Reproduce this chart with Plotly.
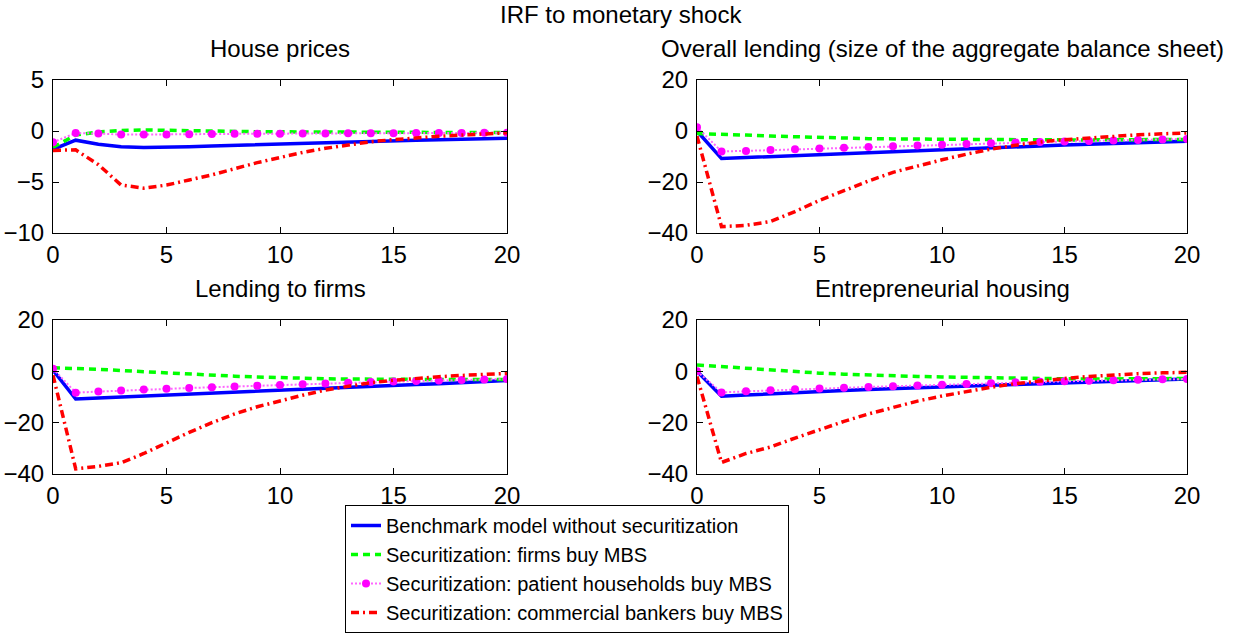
import plotly.graph_objects as go

t = list(range(21))

series_names = [
    "Benchmark model without securitization",
    "Securitization: firms buy MBS",
    "Securitization: patient households buy MBS",
    "Securitization: commercial bankers buy MBS",
]
panel_titles = ["House prices", "Overall lending (size of the aggregate balance sheet)",
                "Lending to firms", "Entrepreneurial housing"]
main_title = "IRF to monetary shock"

# House prices
blue_hp = [-1.8, -0.9, -1.3, -1.55, -1.62, -1.6, -1.54, -1.47, -1.4, -1.33, -1.25, -1.2, -1.14, -1.08, -1.02, -0.96, -0.9, -0.85, -0.8, -0.75, -0.7]
green_hp = [-1.6, -0.4, -0.1, 0.05, 0.1, 0.05, 0.0, -0.02, -0.05, -0.07, -0.08, -0.1, -0.1, -0.12, -0.12, -0.13, -0.13, -0.14, -0.15, -0.15, -0.15]
magenta_hp = [-1.1, -0.2, -0.25, -0.35, -0.35, -0.35, -0.32, -0.3, -0.28, -0.27, -0.26, -0.25, -0.24, -0.23, -0.22, -0.21, -0.2, -0.2, -0.19, -0.18, -0.17]
red_hp = [-1.9, -1.85, -3.3, -5.3, -5.6, -5.3, -4.8, -4.3, -3.7, -3.1, -2.6, -2.1, -1.7, -1.35, -1.05, -0.85, -0.65, -0.52, -0.4, -0.28, -0.18]

# Overall lending
blue_ol = [0.0, -10.8, -10.4, -10.0, -9.6, -9.2, -8.8, -8.4, -8.0, -7.6, -7.2, -6.8, -6.4, -6.1, -5.8, -5.5, -5.2, -4.9, -4.6, -4.3, -4.0]
green_ol = [-1.0, -1.2, -1.6, -2.0, -2.3, -2.6, -2.8, -3.0, -3.1, -3.2, -3.3, -3.4, -3.4, -3.5, -3.5, -3.5, -3.5, -3.4, -3.4, -3.3, -3.3]
magenta_ol = [1.5, -8.0, -7.8, -7.5, -7.2, -6.9, -6.6, -6.3, -6.0, -5.7, -5.4, -5.1, -4.8, -4.5, -4.3, -4.1, -3.9, -3.7, -3.5, -3.3, -3.1]
red_ol = [-2.0, -37.5, -37.0, -35.5, -31.6, -27.2, -23.4, -19.6, -16.2, -13.6, -11.3, -9.1, -7.1, -5.6, -4.3, -3.4, -2.7, -2.0, -1.5, -1.1, -0.8]

# Lending to firms
blue_lf = [0.5, -10.8, -10.4, -10.0, -9.6, -9.2, -8.8, -8.4, -8.0, -7.6, -7.2, -6.8, -6.4, -6.0, -5.7, -5.4, -5.1, -4.8, -4.4, -4.0, -3.6]
green_lf = [1.4, 1.2, 0.8, 0.3, -0.2, -0.7, -1.1, -1.5, -1.9, -2.2, -2.5, -2.7, -2.9, -3.0, -3.1, -3.2, -3.2, -3.2, -3.2, -3.2, -3.2]
magenta_lf = [1.0, -8.3, -7.9, -7.5, -7.1, -6.8, -6.5, -6.2, -5.9, -5.6, -5.3, -5.0, -4.7, -4.4, -4.2, -4.0, -3.8, -3.6, -3.4, -3.2, -3.0]
red_lf = [-1.5, -38.0, -37.0, -35.6, -32.0, -27.8, -23.8, -20.0, -16.6, -13.8, -11.5, -9.3, -7.3, -5.7, -4.4, -3.5, -2.7, -2.1, -1.6, -1.2, -0.8]

# Entrepreneurial housing
blue_eh = [0.0, -9.7, -9.2, -8.7, -8.3, -7.9, -7.5, -7.1, -6.7, -6.3, -6.0, -5.7, -5.4, -5.1, -4.8, -4.5, -4.2, -3.9, -3.6, -3.3, -3.0]
green_eh = [2.5, 1.8, 1.1, 0.4, -0.2, -0.7, -1.1, -1.5, -1.8, -2.0, -2.2, -2.4, -2.6, -2.7, -2.8, -2.9, -3.0, -3.0, -2.9, -2.9, -2.8]
magenta_eh = [0.0, -8.2, -7.8, -7.4, -7.0, -6.7, -6.4, -6.1, -5.8, -5.5, -5.2, -4.9, -4.6, -4.3, -4.1, -3.9, -3.7, -3.5, -3.3, -3.1, -3.0]
red_eh = [-2.0, -35.5, -32.0, -29.5, -26.0, -22.6, -19.5, -16.6, -14.0, -11.6, -9.6, -7.8, -6.2, -4.8, -3.7, -2.8, -2.0, -1.4, -0.9, -0.6, -0.4]

panels = [
    (blue_hp, green_hp, magenta_hp, red_hp),
    (blue_ol, green_ol, magenta_ol, red_ol),
    (blue_lf, green_lf, magenta_lf, red_lf),
    (blue_eh, green_eh, magenta_eh, red_eh),
]
y_ranges = [[-10, 5], [-40, 20], [-40, 20], [-40, 20]]
y_ticks = [[-10, -5, 0, 5], [-40, -20, 0, 20], [-40, -20, 0, 20], [-40, -20, 0, 20]]
x_ticks = [0, 5, 10, 15, 20]

W, H = 1239, 635


def px(v):
    return v / W


def py(v):
    return 1 - v / H


x_doms = [[px(53), px(507)], [px(697), px(1187)], [px(53), px(507)], [px(697), px(1187)]]
y_doms = [[py(233), py(80)], [py(233), py(80)], [py(474), py(320)], [py(474), py(320)]]

FONT = "Liberation Sans, Arial, Helvetica, sans-serif"
FS = 24

styles = [
    dict(mode="lines", line=dict(color="#0000ff", width=3.5)),
    dict(mode="lines", line=dict(color="#00ff00", width=3.5, dash="7px,5px")),
    dict(mode="lines+markers", line=dict(color="#ff66ff", width=2, dash="2px,2px"),
         marker=dict(color="#ff00ff", size=8, symbol="circle")),
    dict(mode="lines", line=dict(color="#ff0000", width=3.5, dash="8px,4px,2px,4px")),
]

fig = go.Figure()
for p, data in enumerate(panels):
    xa = "x" if p == 0 else f"x{p+1}"
    ya = "y" if p == 0 else f"y{p+1}"
    for s, vals in enumerate(data):
        fig.add_trace(go.Scatter(x=t, y=vals, xaxis=xa, yaxis=ya, name=series_names[s],
                                 showlegend=(p == 0), **styles[s]))

axis_common = dict(showline=True, linecolor="black", linewidth=1, mirror="ticks",
                   ticks="inside", ticklen=6, tickcolor="black", showgrid=False,
                   zeroline=False, tickfont=dict(family=FONT, size=FS, color="black"))
layout = dict(width=W, height=H, margin=dict(l=0, r=0, t=0, b=0, autoexpand=False),
              plot_bgcolor="white", paper_bgcolor="white",
              font=dict(family=FONT, size=FS, color="black"))
for p in range(4):
    kx = "xaxis" if p == 0 else f"xaxis{p+1}"
    ky = "yaxis" if p == 0 else f"yaxis{p+1}"
    ya = "y" if p == 0 else f"y{p+1}"
    xa = "x" if p == 0 else f"x{p+1}"
    layout[kx] = dict(domain=x_doms[p], range=[0, 20], tickvals=x_ticks, anchor=ya,
                      ticklabelstandoff=0, **axis_common)
    layout[ky] = dict(domain=y_doms[p], range=y_ranges[p], tickvals=y_ticks[p], anchor=xa,
                      ticklabelstandoff=3, **axis_common)

annotations = [dict(text=main_title, x=px(621), y=py(15), xref="paper", yref="paper",
                    showarrow=False, xanchor="center", yanchor="middle",
                    font=dict(family=FONT, size=FS, color="black"))]
title_pos = [(280, 48), (942, 48), (280, 288), (942, 288)]
for p in range(4):
    cx, cy = title_pos[p]
    annotations.append(dict(text=panel_titles[p], x=px(cx), y=py(cy), xref="paper",
                            yref="paper", showarrow=False, xanchor="center", yanchor="middle",
                            font=dict(family=FONT, size=FS, color="black")))
layout["annotations"] = annotations
layout["legend"] = dict(x=px(345), y=py(633), xanchor="left", yanchor="bottom",
                        bordercolor="black", borderwidth=1, bgcolor="white",
                        font=dict(family=FONT, size=20, color="black"),
                        itemwidth=30, tracegroupgap=0,
                        entrywidthmode="pixels", entrywidth=495)
fig.update_layout(**layout)
fig.write_html("out.html", config={"displayModeBar": False},
               post_script="document.body.style.margin='0';document.body.style.overflow='hidden';")
